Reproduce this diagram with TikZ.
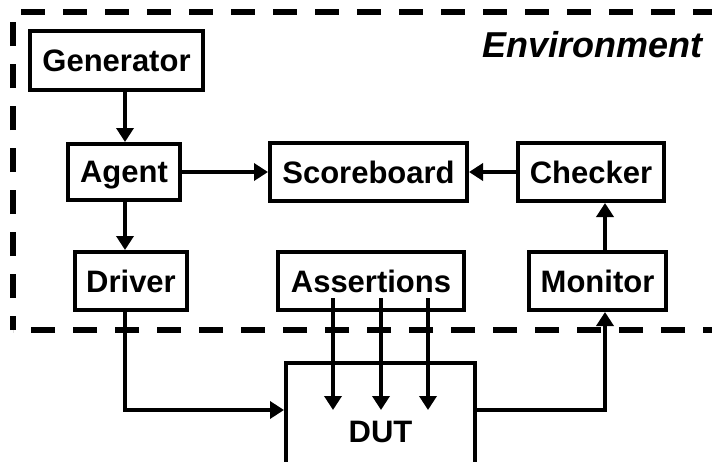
\documentclass[tikz,border=0pt]{standalone}
\usepackage{fontspec}
\setmainfont{Liberation Sans}
\usepackage{tikz}
\usetikzlibrary{arrows.meta, positioning, calc}

\begin{document}
\begin{tikzpicture}[x=1pt, y=-1pt,
          blk/.style={rectangle, draw, line width=4pt, inner sep=0pt,
                      text depth=0pt,
                      font=\fontsize{31}{31}\selectfont\bfseries},
          arr/.style={-{Triangle[length=14pt, width=17pt]}, line width=4.7pt},
          envbox/.style={line width=6.5pt, dash pattern=on 24pt off 18pt,
                         dash phase=10pt}
        ]
        \clip (0,0) rectangle (712,461);

        % Environment frame
        \draw[envbox] (13,330) -- (13,12) -- (740,12) -- (740,330) -- cycle;
        \node[anchor=base east, inner sep=0pt,
              font=\fontsize{36}{36}\selectfont\bfseries\itshape]
              (envlbl) at (703,57) {Environment};

        % Blocks
        \node[blk, minimum width=173pt, minimum height=59pt] (gen)  at (116.5, 60.5) {Generator};
        \node[blk, minimum width=112pt, minimum height=56pt] (agt)  at (124, 172)    {Agent};
        \node[blk, minimum width=197pt, minimum height=58pt] (scb)  at (368.5, 172)  {Scoreboard};
        \node[blk, minimum width=146pt, minimum height=58pt] (chk)  at (591, 172)    {Checker};
        \node[blk, minimum width=112pt, minimum height=58pt] (drv)  at (131, 281)    {Driver};
        \node[blk, minimum width=186pt, minimum height=58pt] (asrt) at (371, 281)    {Assertions};
        \node[blk, minimum width=137pt, minimum height=58pt] (mon)  at (597.5, 281)  {Monitor};
        \node[blk, minimum width=189pt, minimum height=138pt] (dut) at (380.5, 432)  {DUT};

        % Flow inside the environment
        \draw[arr] (gen.south -| 125,0) -- (agt.north -| 125,0);
        \draw[arr] (agt.south -| 125,0) -- (drv.north -| 125,0);
        \draw[arr] (agt) -- (scb);
        \draw[arr] (chk) -- (scb);
        \draw[arr] (mon.north -| 605,0) -- (chk.south -| 605,0);

        % Driver to DUT, DUT to Monitor
        \coordinate (dl) at (125,410);
        \coordinate (dr) at (605,410);
        \draw[arr] (drv.south -| dl) -- (dl) -- (dl -| dut.west);
        \draw[arr] (dr -| dut.east) -- (dr) -- (mon.south -| dr);

        % Assertions into DUT
        \foreach \x in {333, 381, 428} {
          \draw[arr] (\x,298) -- (\x,410);
        }
      \end{tikzpicture}
\end{document}
